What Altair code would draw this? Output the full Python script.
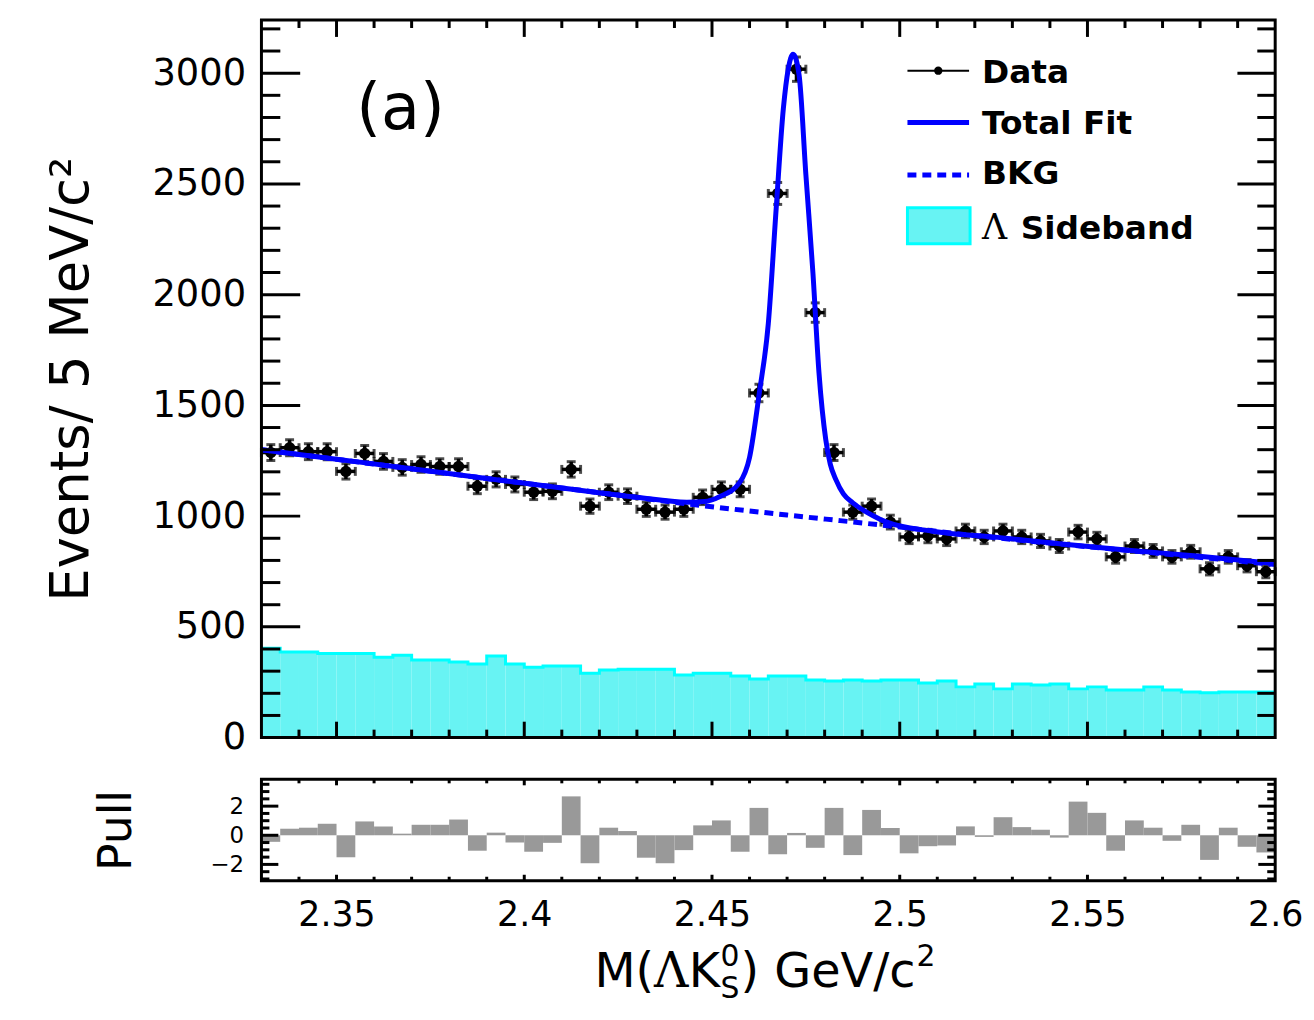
import altair as alt
import pandas as pd

# ---------------- data ----------------
bin_lo = [round(2.33 + 0.005 * i, 4) for i in range(54)]
bin_hi = [round(b + 0.005, 4) for b in bin_lo]
bin_c = [round(b + 0.0025, 5) for b in bin_lo]

data_counts = [1287, 1309, 1291, 1291, 1202, 1283, 1247, 1220, 1233, 1224,
               1224, 1135, 1166, 1143, 1108, 1112, 1211, 1045, 1108, 1090,
               1031, 1018, 1031, 1085, 1121, 1121, 1556, 2457, 3018, 1919,
               1287, 1018, 1045, 973, 906, 910, 897, 933, 906, 933,
               906, 888, 865, 928, 897, 816, 865, 843, 816, 839,
               762, 816, 776, 749]

sideband = [404, 386, 386, 380, 380, 380, 363, 372, 350, 350,
            341, 332, 368, 332, 318, 323, 323, 291, 305, 309,
            309, 309, 283, 291, 291, 278, 265, 278, 278, 260,
            256, 260, 256, 260, 260, 247, 256, 229, 242, 220,
            242, 238, 242, 220, 229, 215, 215, 229, 215, 206,
            202, 206, 206, 206]

pull = [-0.45, 0.45, 0.52, 0.79, -1.51, 0.95, 0.61, 0.11, 0.72, 0.72,
        1.08, -1.06, 0.18, -0.50, -1.13, -0.52, 2.67, -1.92, 0.52, 0.29,
        -1.54, -1.92, -1.02, 0.68, 1.02, -1.13, 1.88, -1.31, 0.16, -0.86,
        1.88, -1.36, 1.74, 0.50, -1.24, -0.75, -0.70, 0.61, -0.11, 1.24,
        0.56, 0.38, -0.16, 2.31, 1.54, -1.06, 1.02, 0.52, -0.38, 0.72,
        -1.69, 0.52, -0.79, -1.18]

fit_x = [2.330, 2.350, 2.370, 2.390, 2.410, 2.4168, 2.430, 2.4433, 2.448,
         2.452, 2.4573, 2.460, 2.4626, 2.465, 2.4671, 2.469, 2.4703, 2.4716,
         2.4732, 2.475, 2.4769, 2.4785, 2.4803, 2.4815, 2.483, 2.485, 2.4875,
         2.4905, 2.4928, 2.4962, 2.5087, 2.5261, 2.5439, 2.5616, 2.5791, 2.600]
fit_y = [1300, 1257, 1214, 1170, 1127, 1112, 1085, 1063, 1066,
         1088, 1150, 1265, 1556, 1870, 2390, 2839, 3018, 3085,
         2991, 2543, 2094, 1646, 1345, 1235, 1165, 1100, 1060,
         1025, 1003, 975, 932, 904, 873, 845, 820, 786]

bkg_x = [2.33, 2.36, 2.39, 2.42, 2.445, 2.47, 2.495, 2.52, 2.55, 2.575, 2.60]
bkg_y = [1300, 1235, 1170, 1106, 1052, 1005, 960, 912, 862, 822, 781]

x_major = [2.35, 2.40, 2.45, 2.50, 2.55]
x_minor = [round(2.33 + 0.01 * i, 2) for i in range(1, 27) if round(2.33 + 0.01 * i, 2) not in (2.35, 2.4, 2.45, 2.5, 2.55)]
x_labels = [2.35, 2.4, 2.45, 2.5, 2.55, 2.6]
y_major = [500, 1000, 1500, 2000, 2500, 3000]
y_minor = [v for v in range(100, 3300, 100) if v % 500 != 0]
y_labels = [0, 500, 1000, 1500, 2000, 2500, 3000]
p_major = [-2, 0, 2]
p_minor = [-3.0, -2.5, -1.5, -1.0, -0.5, 0.5, 1.0, 1.5, 2.5, 3.0, 3.5]

# ---------------- geometry / style ----------------
W, H = 1020, 866
MAIN_H = 722
P_TOP, P_BOT = 764, 866
YM_DOM = [0, 3240]
YP_DOM = [-3.12, 3.84]
XS = alt.Scale(domain=[2.33, 2.6], nice=False, zero=False)
YM = alt.Scale(domain=YM_DOM, range=[MAIN_H, 0], nice=False, zero=False)
YP = alt.Scale(domain=YP_DOM, range=[P_BOT, P_TOP], nice=False, zero=False)

BLUE = "#0000ff"
SB_FILL = "#68f3f3"
SB_LINE = "#00ffff"
FONT = "DejaVu Sans"

COMMON = dict(ticks=False, tickSize=0, domain=False, grid=False, labelFlush=False,
              labelOverlap=False, labelFont=FONT, labelColor="black",
              titleFont=FONT, titleColor="black", titleFontWeight="normal")
XA = alt.Axis(values=x_labels, orient="bottom", title=None, labelFontSize=35,
              labelPadding=17, labelExpr="format(datum.value, '~g')", **COMMON)
YMA = alt.Axis(values=y_labels, orient="left", title="Events/ 5 MeV/c²", titleFontSize=53,
               titlePadding=54, labelFontSize=37, labelPadding=16, format="d", **COMMON)
YPA = alt.Axis(values=p_major, orient="left", title="Pull", titleFontSize=46,
               titlePadding=70, labelFontSize=23, labelPadding=18, format="d", **COMMON)

bins = pd.DataFrame({"lo": bin_lo, "hi": bin_hi, "c": bin_c, "n": data_counts,
                     "sb": sideband, "pull": pull, "zero": [0] * 54})
sb_line_df = pd.DataFrame({"x": bin_lo + [2.6], "v": sideband + [sideband[-1]]})
fit_df = pd.DataFrame({"x": fit_x, "y": fit_y})
bkg_df = pd.DataFrame({"x": bkg_x, "y": bkg_y})
ONE = pd.DataFrame({"a": [0]})


def X(f):
    return alt.X(f, type="quantitative", scale=XS, axis=XA)


def YMn(f):
    return alt.Y(f, type="quantitative", scale=YM, axis=YMA)


def YPn(f):
    return alt.Y(f, type="quantitative", scale=YP, axis=YPA)


def txt(s, x, y, size, font=FONT, weight="normal", align="left", baseline="alphabetic", angle=0):
    return alt.Chart(ONE).mark_text(text=s, align=align, baseline=baseline, font=font,
                                    fontSize=size, fontWeight=weight, angle=angle,
                                    color="black").encode(x=alt.value(x), y=alt.value(y))


def xticks(vals, y0, y1):
    return alt.Chart(pd.DataFrame({"v": vals})).mark_rule(color="black", strokeWidth=3).encode(
        x=X("v"), y=alt.value(y0), y2=alt.value(y1))


def yticks(vals, yenc, x0, x1):
    return alt.Chart(pd.DataFrame({"v": vals})).mark_rule(color="black", strokeWidth=3).encode(
        y=yenc("v"), x=alt.value(x0), x2=alt.value(x1))


# ---------------- main panel ----------------
sb_rect = alt.Chart(bins).mark_rect(fill=SB_FILL, stroke=None).encode(
    x=X("lo"), x2="hi:Q", y=YMn("sb"), y2="zero:Q")

sb_line = alt.Chart(sb_line_df).mark_line(interpolate="step-after", color=SB_LINE, strokeWidth=3).encode(
    x=X("x"), y=YMn("v"))

bkg = alt.Chart(bkg_df).mark_line(color=BLUE, strokeWidth=5, strokeDash=[9, 6],
                                  interpolate="monotone").encode(x=X("x"), y=YMn("y"))

base = alt.Chart(bins).transform_calculate(
    elo="datum.n - sqrt(datum.n)", ehi="datum.n + sqrt(datum.n)")
err_h = base.mark_rule(color="black", strokeWidth=3.5).encode(x=X("lo"), x2="hi:Q", y=YMn("n"))
err_v = base.mark_rule(color="black", strokeWidth=3.5).encode(x=X("c"), y=YMn("elo"), y2="ehi:Q")
cap_l = base.mark_tick(orient="vertical", size=9, thickness=3, color="black").encode(x=X("lo"), y=YMn("n"))
cap_r = base.mark_tick(orient="vertical", size=9, thickness=3, color="black").encode(x=X("hi"), y=YMn("n"))
cap_b = base.mark_tick(orient="horizontal", size=9, thickness=3, color="black").encode(x=X("c"), y=YMn("elo"))
cap_t = base.mark_tick(orient="horizontal", size=9, thickness=3, color="black").encode(x=X("c"), y=YMn("ehi"))
pts = alt.Chart(bins).mark_point(filled=True, size=130, color="black", opacity=1).encode(x=X("c"), y=YMn("n"))

fit = alt.Chart(fit_df).mark_line(color=BLUE, strokeWidth=5, interpolate="monotone").encode(
    x=X("x"), y=YMn("y"))

frame_m = alt.Chart(pd.DataFrame({"x0": [2.33], "x1": [2.6], "y0": [YM_DOM[0]], "y1": [YM_DOM[1]]})).mark_rect(
    fillOpacity=0, stroke="black", strokeWidth=3).encode(x=X("x0"), x2="x1:Q", y=YMn("y0"), y2="y1:Q")

main_ticks = [
    xticks(x_major, MAIN_H, MAIN_H - 16), xticks(x_minor, MAIN_H, MAIN_H - 8),
    xticks(x_major, 0, 17), xticks(x_minor, 0, 8),
    yticks(y_major, YMn, 0, 39), yticks(y_minor, YMn, 0, 19),
    yticks(y_major, YMn, W - 38, W), yticks(y_minor, YMn, W - 18, W),
]

legend = [
    alt.Chart(ONE).mark_rule(color="black", strokeWidth=2).encode(x=alt.value(650), x2=alt.value(712), y=alt.value(51)),
    alt.Chart(ONE).mark_point(filled=True, size=70, color="black", opacity=1).encode(x=alt.value(681), y=alt.value(51)),
    alt.Chart(ONE).mark_rule(color=BLUE, strokeWidth=5).encode(x=alt.value(650), x2=alt.value(712), y=alt.value(103)),
    alt.Chart(ONE).mark_rule(color=BLUE, strokeWidth=5, strokeDash=[9, 6]).encode(x=alt.value(650), x2=alt.value(712), y=alt.value(156)),
    alt.Chart(ONE).mark_rect(fill=SB_FILL, stroke=SB_LINE, strokeWidth=3).encode(
        x=alt.value(650), x2=alt.value(713), y=alt.value(189), y2=alt.value(225)),
    txt("Data", 725, 63, 33, weight="bold"),
    txt("Total Fit", 725, 115, 33, weight="bold"),
    txt("BKG", 725, 165, 33, weight="bold"),
    txt("Λ", 725, 220, 35, font="DejaVu Serif"),
    txt("Sideband", 764, 220, 33, weight="bold"),
]

labels = [
    txt("(a)", 140, 110, 64, align="center"),
    txt("M(", 335, 973, 48),
    txt("Λ", 395, 973, 48, font="DejaVu Serif"),
    txt("K", 430, 973, 48),
    txt("0", 462, 952, 30),
    txt("S", 462, 984, 30),
    txt(") GeV/c", 482, 973, 48),
    txt("2", 659, 952, 30),
]

main = alt.layer(sb_rect, sb_line, err_h, err_v, cap_l, cap_r, cap_b, cap_t, pts, bkg, fit,
                 *main_ticks, frame_m, *legend, *labels)

# ---------------- pull panel ----------------
pull_bars = alt.Chart(bins).mark_rect(fill="#999999", stroke=None).encode(
    x=X("lo"), x2="hi:Q", y=YPn("pull"), y2="zero:Q")

frame_p = alt.Chart(pd.DataFrame({"x0": [2.33], "x1": [2.6], "y0": [YP_DOM[0]], "y1": [YP_DOM[1]]})).mark_rect(
    fillOpacity=0, stroke="black", strokeWidth=3).encode(x=X("x0"), x2="x1:Q", y=YPn("y0"), y2="y1:Q")

pull_ticks = [
    xticks(x_major, P_TOP, P_TOP + 6), xticks(x_minor, P_TOP, P_TOP + 4),
    xticks(x_major, P_BOT, P_BOT - 6), xticks(x_minor, P_BOT, P_BOT - 4),
    yticks(p_major, YPn, 0, 17), yticks(p_minor, YPn, 0, 8),
    yticks(p_major, YPn, W - 17, W), yticks(p_minor, YPn, W - 8, W),
]

pull_panel = alt.layer(pull_bars, *pull_ticks, frame_p)

chart = alt.layer(main, pull_panel).resolve_scale(y="independent").properties(
    width=W, height=H,
    autosize=alt.AutoSizeParams(type="none"),
    padding={"left": 255, "top": 9, "right": 31, "bottom": 130},
).configure_view(stroke=None)

chart.save("out.html", embed_options={"renderer": "svg", "actions": False})
